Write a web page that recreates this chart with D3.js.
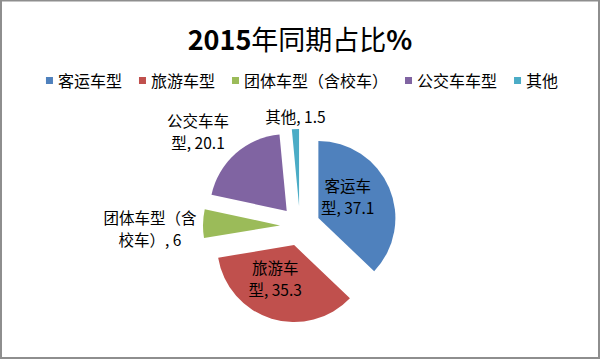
<!DOCTYPE html>
<html>
<head>
<meta charset="utf-8">
<script src="https://cdn.jsdelivr.net/npm/d3@7"></script>
<style>
  html, body { margin: 0; padding: 0; background: #fff; }
  svg { display: block; }
  text { font-family: "Noto Sans CJK SC", "Noto Sans", sans-serif; }
</style>
</head>
<body>
<svg id="chart" width="600" height="359"></svg>
<script>
// ---- data ----
const categories = ["客运车型", "旅游车型", "团体车型（含校车）", "公交车车型", "其他"];
const values = [37.1, 35.3, 6, 20.1, 1.5];
const colors = ["#4F81BD", "#C0504D", "#9BBB59", "#8064A2", "#4BACC6"];
const titleText = "2015年同期占比%";

// ---- label layout (style, not data): wrap position, angle nudge (deg), distance from centre ----
const labelWrap = [3, 3, 6, 4, 0];
const labelAngleNudge = [-8.4, 8, -2.4, -5.6, 0.3];
const labelDist = [56, 58.6, 150, 139, 109.6];
const labelFont = 15.5, labelLine = 22;

const W = 600, H = 359;
const cx = 300, cy = 226, R = 77, explode = 20;

const svg = d3.select("#chart");

// background + border
svg.append("rect").attr("x", 0).attr("y", 0).attr("width", W).attr("height", H).attr("fill", "#fff");
svg.append("rect").attr("x", 1).attr("y", 0.5).attr("width", W - 2).attr("height", H - 1.5)
  .attr("fill", "none").attr("stroke", "#8e8e8e").attr("stroke-width", 2);

// title
const title = svg.append("text").attr("x", 300).attr("y", 50).attr("text-anchor", "middle")
  .attr("font-size", 27).attr("fill", "#000");
title.append("tspan").attr("font-weight", "bold").text(titleText.slice(0, 4));
title.append("tspan").attr("font-weight", "normal").text(titleText.slice(4, titleText.length - 1));
title.append("tspan").attr("font-weight", "bold").text(titleText.slice(-1));

// legend
const legend = svg.append("g");
const legItems = legend.selectAll("g").data(categories).join("g");
legItems.append("rect").attr("width", 7).attr("height", 7).attr("y", 77)
  .attr("fill", (d, i) => colors[i]);
legItems.append("text").attr("x", 12).attr("y", 87).attr("font-size", 16).attr("fill", "#000")
  .text(d => d);
let xpos = 0;
const offsets = [];
legItems.each(function () {
  offsets.push(xpos);
  const tw = d3.select(this).select("text").node().getComputedTextLength();
  xpos += 12 + tw + 17;
});
const totalW = xpos - 17;
const startX = 302 - totalW / 2;
legItems.attr("transform", (d, i) => `translate(${startX + offsets[i]},0)`);

// pie
const pie = d3.pie().sort(null).value(d => d).startAngle(0).endAngle(2 * Math.PI);
const arcs = pie(values);
const arc = d3.arc().innerRadius(0).outerRadius(R);

const g = svg.append("g").attr("transform", `translate(${cx},${cy})`);
g.selectAll("path").data(arcs).join("path")
  .attr("d", arc)
  .attr("fill", (d, i) => colors[i])
  .attr("transform", d => {
    const a = (d.startAngle + d.endAngle) / 2;
    return `translate(${explode * Math.sin(a)},${-explode * Math.cos(a)})`;
  });

// labels (one text element per line)
arcs.forEach((d, i) => {
  const full = `${categories[i]}, ${values[i]}`;
  const lines = labelWrap[i] > 0 ? [full.slice(0, labelWrap[i]), full.slice(labelWrap[i])] : [full];
  const a = (d.startAngle + d.endAngle) / 2 + labelAngleNudge[i] * Math.PI / 180;
  const lx = labelDist[i] * Math.sin(a);
  const ly = -labelDist[i] * Math.cos(a);
  const n = lines.length;
  g.selectAll(null).data(lines).join("text")
    .attr("class", "lbl")
    .attr("text-anchor", "middle")
    .attr("font-size", labelFont)
    .attr("fill", "#000")
    .attr("x", lx)
    .attr("y", (t, j) => ly + (j - (n - 1) / 2) * labelLine + 6)
    .text(t => t);
});
</script>
</body>
</html>
